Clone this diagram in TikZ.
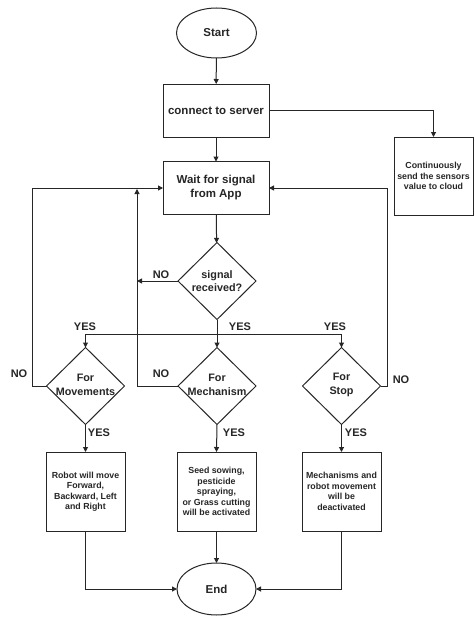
\documentclass[tikz,border=0pt]{standalone}
\usepackage{fontspec}
\setmainfont{Liberation Sans}
\usetikzlibrary{shapes.geometric,arrows.meta}
\begin{document}
\begin{tikzpicture}[x=1pt,y=-1pt,
  line width=1pt, draw=black!85,
  every node/.style={text=black!85},
  lbl/.style={font=\bfseries\fontsize{11}{12}\selectfont, inner sep=0pt},
  term/.style={ellipse, draw, minimum width=80pt, minimum height=50pt, inner sep=0pt, outer sep=0pt, font=\bfseries\fontsize{11.5}{13}\selectfont},
  bigbox/.style={rectangle, draw, minimum width=106pt, minimum height=53pt, inner sep=0pt, outer sep=0pt, align=center, font=\bfseries\fontsize{11.5}{14}\selectfont},
  smallbox/.style={rectangle, draw, minimum width=79pt, minimum height=79pt, inner sep=0pt, outer sep=0pt, align=center, font=\bfseries\fontsize{8.8}{10.5}\selectfont},
  dia/.style={diamond, draw, minimum width=78pt, minimum height=77pt, inner sep=0pt, outer sep=0pt},
  diatext/.style={align=center, inner sep=0pt, font=\bfseries\fontsize{10.8}{13.5}\selectfont},
  arr/.style={-{Triangle[length=5pt,width=5pt]}},
]
\useasboundingbox (0,0) rectangle (474,621);
\fill[white] (0,0) rectangle (474,621);

\node[term] (start) at (216.5,33) {Start};
\node[bigbox] (connect) at (216,110.5) {connect to server};
\node[bigbox] (wait) at (216,188) {Wait for signal\\from App};
\node[smallbox, minimum height=78pt, font=\bfseries\fontsize{8.8}{10.5}\selectfont] (cloud) at (433.5,176) {Continuously\\send the sensors\\value to cloud};

\node[dia] (sig) at (217,281) {};
\node[diatext] (sigt) at (sig) {signal\\received?};

\node[dia] (mov) at (85.5,386) {};
\node[diatext] (movt) at ([yshift=1pt]mov.center) {For\\Movements};
\node[dia] (mech) at (217,386) {};
\node[diatext] (mecht) at ([yshift=1pt]mech.center) {For\\Mechanism};
\node[dia] (stop) at (341.5,386) {};
\node[diatext] (stopt) at ([yshift=1pt]stop.center) {For\\Stop};

\node[smallbox] (robot) at (85.5,491.5) {Robot will move\\Forward,\\Backward, Left\\and Right};
\node[smallbox] (seed) at (216.5,491.5) {Seed sowing,\\pesticide\\spraying,\\or Grass cutting\\will be activated};
\node[smallbox] (deact) at (341.5,491.5) {Mechanisms and\\robot movement\\will be\\deactivated};

\node[term, minimum width=79pt, minimum height=52pt] (end) at (216.5,589) {End};

\coordinate (l1) at (32,188);
\coordinate (l2) at (137,189);
\coordinate (r1) at (387,188);
\coordinate (split) at (217,334);

\draw[arr] (start) -- (connect);
\draw[arr] (connect) -- (wait);
\draw[arr] (connect.east) -| (cloud.north);
\draw[arr] (wait) -- (sig);
\draw[arr] (sig.west) -- (sig.west -| l2);
\draw (sig.south) -- (split);
\draw[arr] (split) -- (mech.north);
\draw[arr] (split) -| (mov.north);
\draw[arr] (split) -| (stop.north);
\draw[arr] (mov.west) -| (l1) -- (wait.west);
\draw[arr] (mech.west) -| (l2);
\draw[arr] (stop.east) -| (r1) -- (wait.east);
\draw[arr] (mov.south) -- (robot.north);
\draw[arr] (mech.south) -- (seed.north);
\draw[arr] (stop.south) -- (deact.north);
\draw[arr] (robot.south) |- (end.west);
\draw[arr] (seed.south) -- (end.north);
\draw[arr] (deact.south) |- (end.east);

\node[lbl] (no0) at (161,275) {NO};
\node[lbl] (yes1) at (85,327) {YES};
\node[lbl] (yes2) at (240,327) {YES};
\node[lbl] (yes3) at (335,327) {YES};
\node[lbl] (no1) at (19,374) {NO};
\node[lbl] (no2) at (161,374) {NO};
\node[lbl] (no3) at (401,380) {NO};
\node[lbl] (yes4) at (99,433) {YES};
\node[lbl] (yes5) at (234,433) {YES};
\node[lbl] (yes6) at (356,433) {YES};
\end{tikzpicture}
\end{document}
